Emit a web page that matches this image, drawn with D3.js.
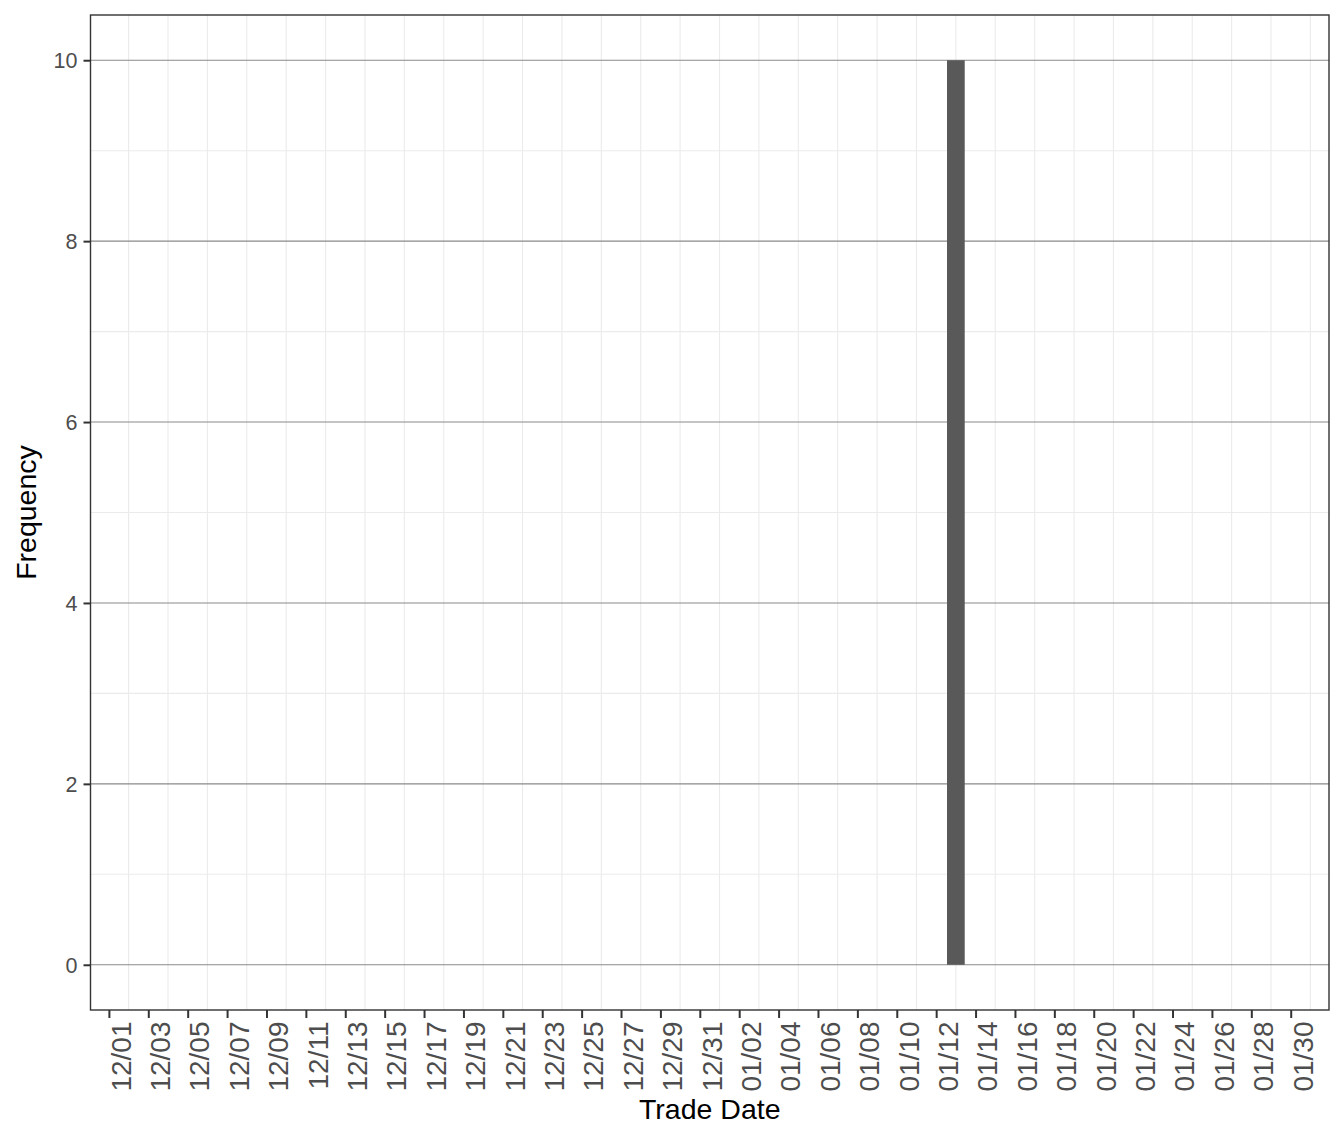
<!DOCTYPE html>
<html>
<head>
<meta charset="utf-8">
<script src="https://cdn.jsdelivr.net/npm/d3@7"></script>
<style>
  html, body { margin: 0; padding: 0; background: #ffffff; }
  svg { display: block; font-family: "Liberation Sans", Arial, Helvetica, sans-serif; }
</style>
</head>
<body>
<svg id="chart" width="1344" height="1142"></svg>
<script>
// ---- data ----
const tradeDates = ["2021-01-13"];
const frequencies = [10];
const tickLabels = ["12/01","12/03","12/05","12/07","12/09","12/11","12/13","12/15","12/17","12/19",
  "12/21","12/23","12/25","12/27","12/29","12/31","01/02","01/04","01/06","01/08",
  "01/10","01/12","01/14","01/16","01/18","01/20","01/22","01/24","01/26","01/28","01/30"];
const yTicks = [0, 2, 4, 6, 8, 10];
const yMinorTicks = [1, 3, 5, 7, 9];
const xTitle = "Trade Date";
const yTitle = "Frequency";

// ---- layout ----
const W = 1344, H = 1142;
const panel = { left: 90.5, right: 1329, top: 15, bottom: 1010 };
const DAY = 86400000;
const parse = d3.utcParse("%Y-%m-%d");
const labelToDate = l => {
  const [m, d] = l.split("/").map(Number);
  return new Date(Date.UTC(m === 12 ? 2020 : 2021, m - 1, d));
};
const firstDay = labelToDate(tickLabels[0]);
const lastDay = labelToDate(tickLabels[tickLabels.length - 1]);

const x = d3.scaleUtc()
  .domain([new Date(+firstDay - 0.934 * DAY), new Date(+lastDay + 1.944 * DAY)])
  .range([panel.left, panel.right]);
const y = d3.scaleLinear().domain([-0.5, 10.5]).range([panel.bottom, panel.top]);

const svg = d3.select("#chart");
svg.append("rect").attr("width", W).attr("height", H).attr("fill", "#ffffff");

const g = svg.append("g");

// minor x grid (between ticks)
const tickDates = tickLabels.map(labelToDate);
const minorDates = tickDates.map(d => new Date(+d + DAY))
  .filter(d => x(d) > panel.left && x(d) < panel.right);

g.append("g").selectAll("line").data(minorDates).join("line")
  .attr("x1", d => x(d)).attr("x2", d => x(d))
  .attr("y1", panel.top).attr("y2", panel.bottom)
  .attr("stroke", "#ebebeb").attr("stroke-width", 1.1);

// minor y grid
g.append("g").selectAll("line").data(yMinorTicks).join("line")
  .attr("x1", panel.left).attr("x2", panel.right)
  .attr("y1", d => y(d)).attr("y2", d => y(d))
  .attr("stroke", "#ebebeb").attr("stroke-width", 1.1);

// major y grid
g.append("g").selectAll("line").data(yTicks).join("line")
  .attr("x1", panel.left).attr("x2", panel.right)
  .attr("y1", d => y(d)).attr("y2", d => y(d))
  .attr("stroke", "#8a8a8a").attr("stroke-width", 1.1);

// bars
const bars = tradeDates.map((d, i) => ({ date: parse(d), value: frequencies[i] }));
const barW = x(new Date(+firstDay + 0.9 * DAY)) - x(firstDay);
g.append("g").selectAll("rect").data(bars).join("rect")
  .attr("x", d => x(d.date) - barW / 2)
  .attr("width", barW)
  .attr("y", d => y(d.value))
  .attr("height", d => y(0) - y(d.value))
  .attr("fill", "#595959");

// panel border
g.append("rect")
  .attr("x", panel.left).attr("y", panel.top)
  .attr("width", panel.right - panel.left).attr("height", panel.bottom - panel.top)
  .attr("fill", "none").attr("stroke", "#333333").attr("stroke-width", 1.4);

// y axis
const yAxis = svg.append("g")
  .attr("transform", `translate(${panel.left},0)`)
  .call(d3.axisLeft(y).tickValues(yTicks).tickSize(7).tickPadding(6).tickFormat(d3.format("d")));
yAxis.select(".domain").remove();
yAxis.selectAll(".tick line").attr("stroke", "#333333").attr("stroke-width", 2);
yAxis.selectAll(".tick text")
  .attr("fill", "#4d4d4d").attr("font-size", 21.5)
  .attr("font-family", "'Liberation Sans', Arial, sans-serif")
  .attr("dy", "0.36em");

// x axis
const xAxis = svg.append("g")
  .attr("transform", `translate(0,${panel.bottom})`)
  .call(d3.axisBottom(x).tickValues(tickDates).tickSize(8).tickFormat((d, i) => tickLabels[i]));
xAxis.select(".domain").remove();
xAxis.selectAll(".tick line").attr("stroke", "#333333").attr("stroke-width", 2);
xAxis.selectAll(".tick text")
  .attr("fill", "#4d4d4d").attr("font-size", 28)
  .attr("font-family", "'Liberation Sans', Arial, sans-serif")
  .attr("text-anchor", "end")
  .attr("dy", null)
  .attr("y", 0)
  .attr("transform", "translate(21.3,11.5) rotate(-90)");

// axis titles
svg.append("text")
  .attr("x", (panel.left + panel.right) / 2).attr("y", 1119)
  .attr("text-anchor", "middle").attr("font-size", 28.5).attr("fill", "#000000")
  .text(xTitle);

svg.append("text")
  .attr("transform", `translate(35.5,${(panel.top + panel.bottom) / 2}) rotate(-90)`)
  .attr("text-anchor", "middle").attr("font-size", 28.5).attr("fill", "#000000")
  .text(yTitle);
</script>
</body>
</html>
